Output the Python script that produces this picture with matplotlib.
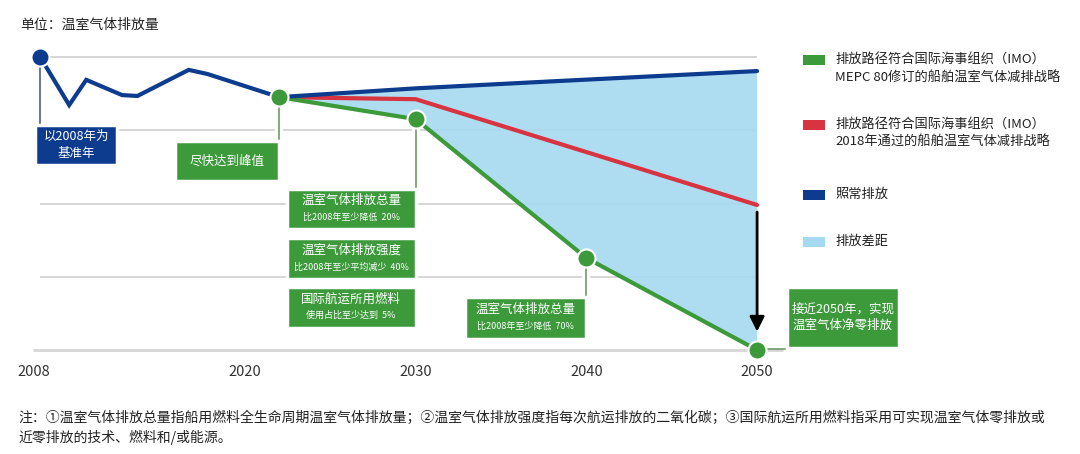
import matplotlib
matplotlib.use("Agg")
import matplotlib.pyplot as plt
import matplotlib.patheffects as pe
from matplotlib.patches import Rectangle

plt.rcParams['font.family'] = ['Noto Sans CJK SC', 'DejaVu Sans']
plt.rcParams['font.weight'] = 'medium'

# 数据
hist_years = [2008, 2009.7, 2010.7, 2012.8, 2013.7, 2016.7, 2017.8, 2022]
hist_vals = [100, 83.6, 92.2, 87.0, 86.7, 95.6, 94.2, 86.3]

bau_years = [2022, 2030, 2037, 2050]
bau_vals = [86.3, 89.3, 91.4, 95.2]

red_years = [2022, 2030, 2050]
red_vals = [86.3, 85.6, 49.5]

green_years = [2022, 2030, 2040, 2050]
green_vals = [86.3, 78.8, 31.4, 0]

tick_years = [2008, 2020, 2030, 2040, 2050]
grid_vals = [100, 75, 50, 25]

legend_labels = ['排放路径符合国际海事组织（IMO）\nMEPC 80修订的船舶温室气体减排战略',
                 '排放路径符合国际海事组织（IMO）\n2018年通过的船舶温室气体减排战略',
                 '照常排放', '排放差距']

BLUE = '#0d3b8e'
GREEN = '#3c9a3a'
RED = '#d83340'
LIGHT = '#a5daf0'
legend_colors = [GREEN, RED, BLUE, LIGHT]

W, H = 1080, 454
fig = plt.figure(figsize=(W / 100, H / 100), dpi=100)
ax = fig.add_axes([0, 0, 1, 1])
ax.axis('off')
# 像素比例: 2020 -> 245px, 每年 17.07px; 0 -> 350px, 每单位 2.93px
ax.set_xlim(2020 - 245 / 17.07, 2020 + (W - 245) / 17.07)
ax.set_ylim((350 - H) / 2.93, 350 / 2.93)


def fx(px):
    return px / W


def fy(py):
    return 1 - py / H


# 网格线
ax.hlines(grid_vals, 2008, 2050, color='#cfcfcf', lw=1.2, zorder=1)
ax.hlines(0, 2007.6, 2051.5, color='#d6d6d6', lw=2, zorder=1)

# 排放差距
ax.fill(bau_years + green_years[::-1], bau_vals + green_vals[::-1],
        color=LIGHT, alpha=0.9, lw=0, zorder=2)

stroke = [pe.withStroke(linewidth=6, foreground='white')]

# 连接线
ax.plot([hist_years[0]] * 2, [hist_vals[0], 76.8], color='#4a5f85', lw=1.2, zorder=3, path_effects=stroke)
ax.plot([green_years[0]] * 2, [green_vals[0], 71.3], color='#6f9a68', lw=1.2, zorder=3, path_effects=stroke)
ax.plot([green_years[1]] * 2, [green_vals[1], 54.9], color='#6f9a68', lw=1.2, zorder=3, path_effects=stroke)
ax.plot([green_years[2]] * 2, [green_vals[2], 18.1], color='#6f9a68', lw=1.2, zorder=3, path_effects=stroke)
ax.plot([green_years[3], 2051.8], [0.5, 0.5], color='#6f9a68', lw=1.2, zorder=3)

# 曲线
ax.plot(red_years, red_vals, color=RED, lw=3, zorder=4, solid_capstyle='round')
ax.plot(green_years, green_vals, color=GREEN, lw=3, zorder=4, solid_capstyle='round')
ax.plot(bau_years, bau_vals, color=BLUE, lw=3, zorder=4, solid_capstyle='round')
ax.plot(hist_years, hist_vals, color=BLUE, lw=3, zorder=4, solid_joinstyle='miter')

ax.plot(hist_years[0], hist_vals[0], 'o', color=BLUE, ms=13, mec='white', mew=1.5, zorder=6)
ax.plot(green_years, green_vals, 'o', color=GREEN, ms=13, mec='white', mew=1.5, zorder=6)

# 箭头
ax.annotate('', xy=(2050, 6.3), xytext=(2050, 47.1),
            arrowprops=dict(arrowstyle='-|>', color='black', lw=2, mutation_scale=22,
                            shrinkA=0, shrinkB=0), zorder=5)


def box(left, top, width, height, color, main, sub=None, size=9):
    ax.add_patch(Rectangle((left, top - height), width, height, facecolor=color,
                           edgecolor='white', lw=2.5, zorder=5))
    cx = left + width / 2
    if sub is None:
        ax.text(cx, top - height / 2, main, color='white', fontsize=size, ha='center',
                va='center', linespacing=1.35, zorder=7)
    else:
        ax.text(cx, top - height * 0.29, main, color='white', fontsize=size, ha='center',
                va='center', zorder=7)
        ax.text(cx, top - height * 0.7, sub, color='white', fontsize=6.5, ha='center',
                va='center', zorder=7)


box(hist_years[0] - 0.3, 76.8, 4.8, 13.7, BLUE, '以2008年为\n基准年')
box(green_years[0] - 6.1, 71.3, 6.1, 13.6, GREEN, '尽快达到峰值')
box(green_years[1] - 7.56, 54.9, 7.56, 13.6, GREEN, '温室气体排放总量', '比2008年至少降低  20%')
box(green_years[1] - 7.56, 38.2, 7.56, 14.0, GREEN, '温室气体排放强度', '比2008年至少平均减少  40%')
box(green_years[1] - 7.56, 21.5, 7.56, 14.0, GREEN, '国际航运所用燃料', '使用占比至少达到  5%')
box(green_years[2] - 7.09, 18.1, 7.09, 14.3, GREEN, '温室气体排放总量', '比2008年至少降低  70%')
box(green_years[3] + 1.75, 21.5, 6.56, 20.8, GREEN, '接近2050年，实现\n温室气体净零排放')

# x 轴标签
for yr in tick_years:
    ax.text(yr - (0.35 if yr == tick_years[0] else 0), -7.5, str(yr), ha='center',
            va='center', fontsize=10.5, color='#333333')

# 标题
fig.text(fx(20), fy(25), '单位：温室气体排放量', fontsize=10, color='#222222', va='center')

# 图例
legend_y = [60, 125, 195, 242]
for lab, col, py in zip(legend_labels, legend_colors, legend_y):
    fig.patches.append(Rectangle((fx(803), fy(py + 5)), 22 / W, 10 / H, facecolor=col,
                                 transform=fig.transFigure, figure=fig))
    fig.text(fx(835), fy(py - 7), lab, fontsize=9.5, color='#222222', va='top',
             linespacing=1.45)

# 注
fig.text(fx(18), fy(418),
         '注：①温室气体排放总量指船用燃料全生命周期温室气体排放量；②温室气体排放强度指每次航运排放的二氧化碳；③国际航运所用燃料指采用可实现温室气体零排放或',
         fontsize=10, color='#222222', va='center')
fig.text(fx(18), fy(437), '近零排放的技术、燃料和/或能源。', fontsize=10, color='#222222', va='center')

fig.savefig('out.png', dpi=100, facecolor='white')
